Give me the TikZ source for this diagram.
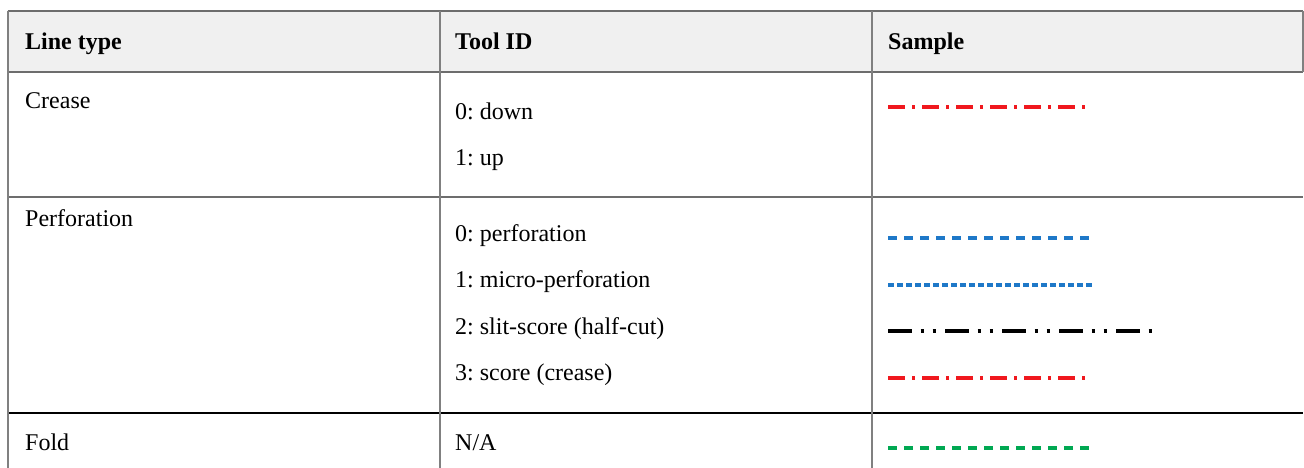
\documentclass[tikz,border=0pt]{standalone}
\usepackage{fontspec}
\setmainfont{Liberation Serif}
\frenchspacing
\definecolor{headgray}{RGB}{240,240,240}
\definecolor{rulegray}{RGB}{128,128,128}
\definecolor{creasered}{RGB}{240,24,30}
\definecolor{perfblue}{RGB}{30,120,200}
\definecolor{foldgreen}{RGB}{0,168,82}
\tikzset{
  cell/.style={anchor=base west, inner sep=0pt, font=\fontsize{24}{28}\selectfont},
  head/.style={cell, font=\fontsize{24}{28}\selectfont\bfseries},
  sample/.style={line width=3.3pt},
  creaseline/.style={sample, creasered, line width=3.8pt, dash pattern=on 17pt off 7pt on 3pt off 7pt},
  perfline/.style={sample, perfblue, dash pattern=on 9pt off 7pt},
  microline/.style={sample, perfblue, dash pattern=on 6pt off 3pt},
  slitline/.style={sample, black, dash pattern=on 24pt off 8.5pt on 3.5pt off 8.5pt on 3.5pt off 9pt},
  foldline/.style={sample, foldgreen, dash pattern=on 9pt off 7pt}
}
\begin{document}
\begin{tikzpicture}[x=1pt,y=-1pt]
  \useasboundingbox (0,0) rectangle (1304,468);
  % header row
  \fill[headgray] (7.5,11) rectangle (1303,72);
  \draw[rulegray!85!black, line width=1.5pt] (7.5,11) -- (1303,11);
  \draw[rulegray!85!black, line width=1.5pt] (7.5,72) -- (1303,72);
  \draw[rulegray!85!black, line width=1.5pt] (7.5,197) -- (1303,197);
  \draw[black, line width=1.2pt] (7.5,413) -- (1303,413);
  \begin{scope}[rulegray, line width=2pt]
    \draw (7.5,11) -- (7.5,468);
    \draw (440,11) -- (440,468);
    \draw (872,11) -- (872,468);
    \draw (1303,11) -- (1303,72);
  \end{scope}
  % texts
  \node[head] (hline) at (25,50) {Line type};
  \node[head] (htool) at (455,50) {Tool ID};
  \node[head] (hsample) at (888,50) {Sample};
  \node[cell] (crease) at (25,109) {Crease};
  \node[cell] (down) at (455,120) {0: down};
  \node[cell] (up) at (455,166) {1: up};
  \node[cell] (perf) at (25,226) {Perforation};
  \node[cell] (perf0) at (455,241) {0: perforation};
  \node[cell] (perf1) at (455,287) {1: micro-perforation};
  \node[cell] (perf2) at (455,334) {2: slit-score (half-cut)};
  \node[cell] (perf3) at (455,380) {3: score (crease)};
  \node[cell] (fold) at (25,450) {Fold};
  \node[cell] (na) at (455,450) {N/A};
  % samples
  \draw[creaseline] (888,107) -- (1085,107);
  \draw[perfline] (888,238) -- (1090,238);
  \draw[microline] (888,285) -- (1092,285);
  \draw[slitline] (888,331) -- (1154,331);
  \draw[creaseline] (888,378) -- (1086,378);
  \draw[foldline] (888,448) -- (1090,448);
\end{tikzpicture}
\end{document}
